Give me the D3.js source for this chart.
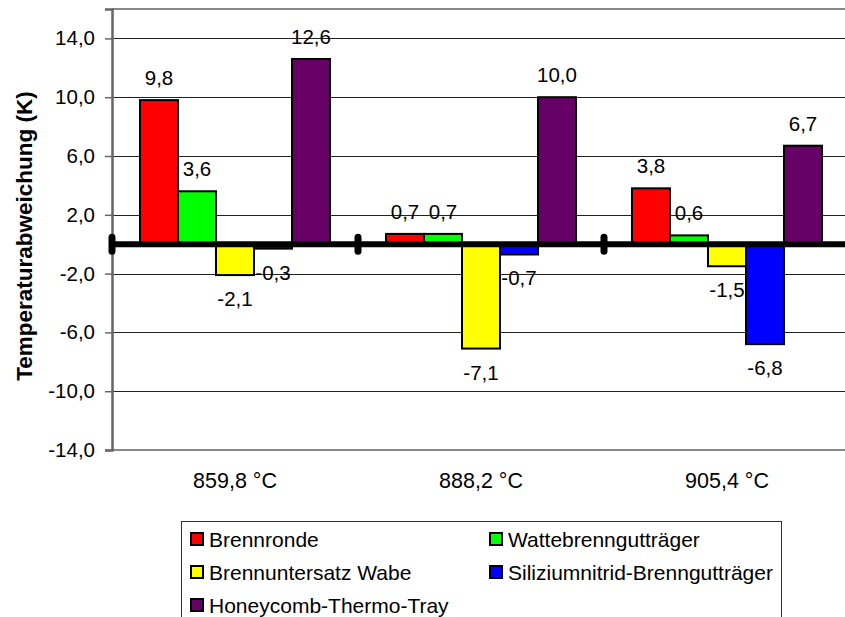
<!DOCTYPE html>
<html>
<head>
<meta charset="utf-8">
<script src="https://cdn.jsdelivr.net/npm/d3@7"></script>
<style>
  html, body { margin: 0; padding: 0; background: #fff; }
  svg { display: block; font-family: "Liberation Sans", Arial, sans-serif; }
</style>
</head>
<body>
<svg id="chart" width="845" height="617"></svg>
<script>
const categories = ["859,8 °C", "888,2 °C", "905,4 °C"];
const seriesNames = ["Brennronde", "Wattebrenngutträger", "Brennuntersatz Wabe", "Siliziumnitrid-Brenngutträger", "Honeycomb-Thermo-Tray"];
const seriesColors = ["#FF0000", "#00FF00", "#FFFF00", "#0000FF", "#660066"];
const brennronde = [9.8, 0.7, 3.8];
const wattebrenngut = [3.6, 0.7, 0.6];
const brennuntersatz = [-2.1, -7.1, -1.5];
const silizium = [-0.3, -0.7, -6.8];
const honeycomb = [12.6, 10.0, 6.7];
const seriesValues = [brennronde, wattebrenngut, brennuntersatz, silizium, honeycomb];
const yTicks = [-14, -10, -6, -2, 2, 6, 10, 14];
const yTitle = "Temperaturabweichung (K)";

const svg = d3.select("#chart");
const pLeft = 112, pRight = 850, pTop = 9, pBottom = 450;
const fmt = v => d3.format(".1f")(v).replace(".", ",").replace("−", "-");

const y = d3.scaleLinear().domain([-14, 16]).range([pBottom, pTop]);
const x0 = d3.scaleBand().domain(categories).range([pLeft, pRight]).paddingInner(0).paddingOuter(0);
const x1 = d3.scaleBand().domain(seriesNames).range([28, x0.bandwidth() - 28]).padding(0);

// gridlines
svg.append("g").selectAll("line").data(yTicks.filter(t => t !== -14)).join("line")
  .attr("x1", pLeft).attr("x2", pRight)
  .attr("y1", d => Math.round(y(d)) + 0.5).attr("y2", d => Math.round(y(d)) + 0.5)
  .attr("stroke", "#222").attr("stroke-width", 1);

// plot border (top, bottom)
svg.append("line").attr("x1", pLeft).attr("x2", pRight).attr("y1", pTop).attr("y2", pTop)
  .attr("stroke", "#888").attr("stroke-width", 2);
svg.append("line").attr("x1", pLeft).attr("x2", pRight).attr("y1", pBottom).attr("y2", pBottom)
  .attr("stroke", "#888").attr("stroke-width", 2);

// y axis
const yAxis = d3.axisLeft(y).tickValues(yTicks).tickSize(7).tickPadding(10).tickFormat(fmt);
const gy = svg.append("g").attr("transform", `translate(${pLeft},0)`).call(yAxis);
gy.select(".domain").attr("stroke", "#666").attr("stroke-width", 2.5);
gy.selectAll(".tick line").attr("stroke", "#666").attr("stroke-width", 1.5);
gy.selectAll(".tick text").attr("font-size", 20.5).attr("fill", "#000")
  .attr("font-family", "'Liberation Sans', Arial, sans-serif");

// y title
svg.append("text").attr("transform", `translate(32,236) rotate(-90)`)
  .attr("text-anchor", "middle").attr("font-size", 22.5).attr("font-weight", "bold")
  .text(yTitle);

// bars
const rows = [];
categories.forEach((c, ci) => seriesNames.forEach((s, si) => rows.push({c, s, si, v: seriesValues[si][ci]})));
const bars = svg.append("g");
bars.selectAll("rect").data(rows).join("rect")
  .attr("x", d => x0(d.c) + x1(d.s))
  .attr("width", x1.bandwidth())
  .attr("y", d => y(Math.max(0, d.v)))
  .attr("height", d => Math.abs(y(d.v) - y(0)))
  .attr("fill", d => seriesColors[d.si])
  .attr("stroke", "#000").attr("stroke-width", 2);

// zero line
svg.append("line").attr("x1", pLeft).attr("x2", pRight).attr("y1", y(0)).attr("y2", y(0))
  .attr("stroke", "#000").attr("stroke-width", 6);
// category tick markers
svg.append("g").selectAll("line").data(categories.map(c => x0(c)).concat([pRight])).join("line")
  .attr("x1", d => d).attr("x2", d => d)
  .attr("y1", y(0) - 7).attr("y2", y(0) + 7)
  .attr("stroke", "#000").attr("stroke-width", 7).attr("stroke-linecap", "round");

// data labels
svg.append("g").selectAll("text").data(rows).join("text")
  .attr("x", d => x0(d.c) + x1(d.s) + x1.bandwidth() / 2)
  .attr("y", d => d.v >= 0 ? y(d.v) - 15 : y(d.v) + 31)
  .attr("text-anchor", "middle").attr("font-size", 20.5).attr("fill", "#000")
  .text(d => fmt(d.v));

// category labels
svg.append("g").selectAll("text").data(categories).join("text")
  .attr("x", d => x0(d) + x0.bandwidth() / 2).attr("y", 488)
  .attr("text-anchor", "middle").attr("font-size", 21.5).attr("fill", "#000")
  .text(d => d);

// legend
const lg = svg.append("g");
lg.append("rect").attr("x", 181.5).attr("y", 521.5).attr("width", 600).attr("height", 130)
  .attr("fill", "#fff").attr("stroke", "#333").attr("stroke-width", 1);
const legendPos = [[190, 539], [489, 539], [190, 572], [489, 572], [190, 605]];
const items = lg.selectAll("g").data(seriesNames).join("g")
  .attr("transform", (d, i) => `translate(${legendPos[i][0]},${legendPos[i][1]})`);
items.append("rect").attr("x", 1).attr("y", -6).attr("width", 12).attr("height", 12)
  .attr("fill", (d, i) => seriesColors[i]).attr("stroke", "#000").attr("stroke-width", 2);
items.append("text").attr("x", 19).attr("y", 7.5).attr("font-size", 21).attr("fill", "#000").text(d => d);
</script>
</body>
</html>
